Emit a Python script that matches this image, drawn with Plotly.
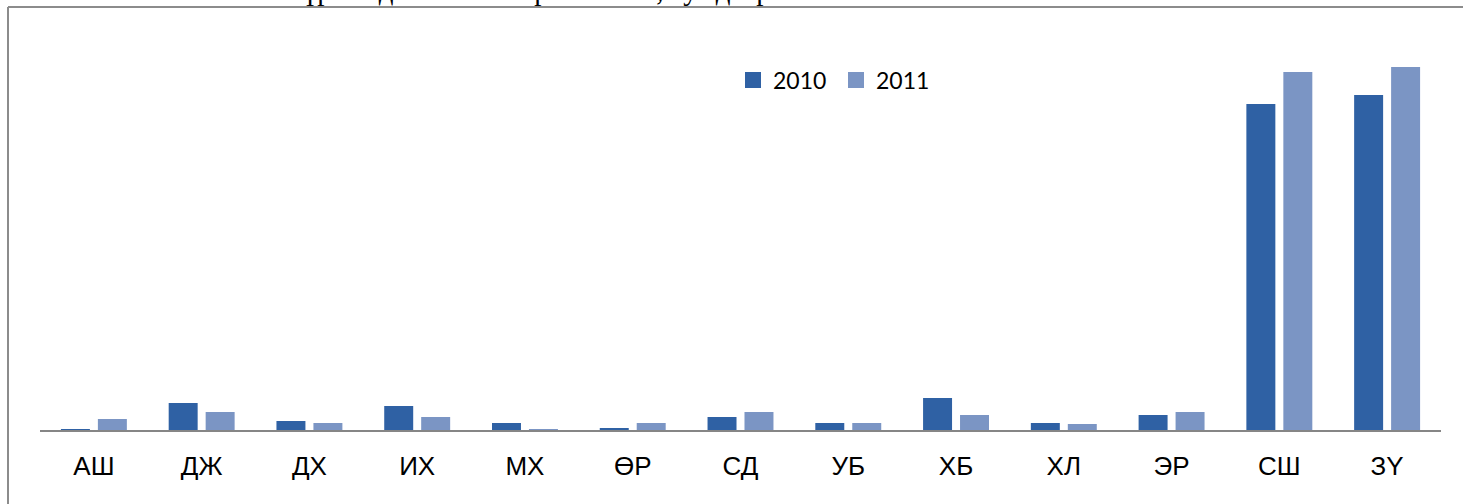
import plotly.graph_objects as go

# Districts (sum abbreviations) on the category axis
districts = ["АШ", "ДЖ", "ДХ", "ИХ", "МХ", "ӨР", "СД", "УБ", "ХБ", "ХЛ", "ЭР", "СШ", "ЗҮ"]
tick_labels = ["АШ", "ДЖ", "ДХ", "ИХ", "МХ", "ӨР", "СД", "УБ", "ХБ", "ХЛ", "ЭР", "СШ", "ЗY"]

# Registered counts per district
counts_2010 = [1, 27, 9, 24, 7, 2, 13, 7, 32, 7, 15, 326, 335]
counts_2011 = [11, 18, 7, 13, 1, 7, 18, 7, 15, 6, 18, 358, 363]

series_names = ["2010", "2011"]
series_colors = ["#2f61a4", "#7b95c4"]

title_text = "Бүртгэгдсэн томт хорхойн тоо, сумдаар"

fig = go.Figure()

for name, vals, col in zip(series_names, [counts_2010, counts_2011], series_colors):
    fig.add_trace(go.Bar(
        x=districts, y=vals, name=name,
        marker=dict(color=col, line=dict(width=0)),
        showlegend=False, hoverinfo="x+y+name",
    ))
    # square legend keys
    fig.add_trace(go.Scatter(
        x=[None], y=[None], mode="markers", name=name,
        marker=dict(symbol="square", size=16, color=col),
        showlegend=True,
    ))

W, H = 1463, 504
ml, mr, mt, mb = 40, 22, 30, 74
pw = W - ml - mr
ph = H - mt - mb

fig.update_layout(
    width=W, height=H,
    margin=dict(l=ml, r=mr, t=mt, b=mb),
    paper_bgcolor="white", plot_bgcolor="white",
    barmode="group", bargap=0.314, bargroupgap=0.216,
    font=dict(family="Liberation Sans, Arial, sans-serif", color="#000000"),
    legend=dict(
        orientation="h", x=(733 - ml) / pw, xanchor="left",
        y=1 - (80 - mt) / ph, yanchor="middle",
        font=dict(family="Lato, sans-serif", size=23, color="#000000"),
        entrywidth=58, entrywidthmode="pixels",
        bgcolor="rgba(0,0,0,0)",
    ),
    xaxis=dict(
        type="category", tickvals=districts, ticktext=tick_labels,
        showline=True, linecolor="#868686", linewidth=2,
        showgrid=False, zeroline=False, ticks="",
        tickfont=dict(size=26, family="Liberation Sans, Arial, sans-serif"),
        ticklabelstandoff=12,
    ),
    yaxis=dict(range=[0, ph], visible=False, showgrid=False, zeroline=False),
    shapes=[
        # outer chart frame (left and top edges)
        dict(type="line", xref="paper", yref="paper",
             x0=(8 - ml) / pw, x1=(8 - ml) / pw, y0=1 + (mt - 7) / ph, y1=-(mb + 10) / ph,
             line=dict(color="#8c8c8c", width=2)),
        dict(type="line", xref="paper", yref="paper",
             x0=(8 - ml) / pw, x1=(W + 10 - ml) / pw, y0=1 + (mt - 7) / ph, y1=1 + (mt - 7) / ph,
             line=dict(color="#8c8c8c", width=2)),
    ],
    annotations=[
        dict(text=title_text, xref="paper", yref="paper",
             x=(528 - ml) / pw, xanchor="center",
             y=1 + (mt + 10) / ph, yanchor="middle", showarrow=False,
             font=dict(family="Liberation Serif, Times New Roman, serif", size=29, color="#000000")),
    ],
)

fig.write_html("out.html")
